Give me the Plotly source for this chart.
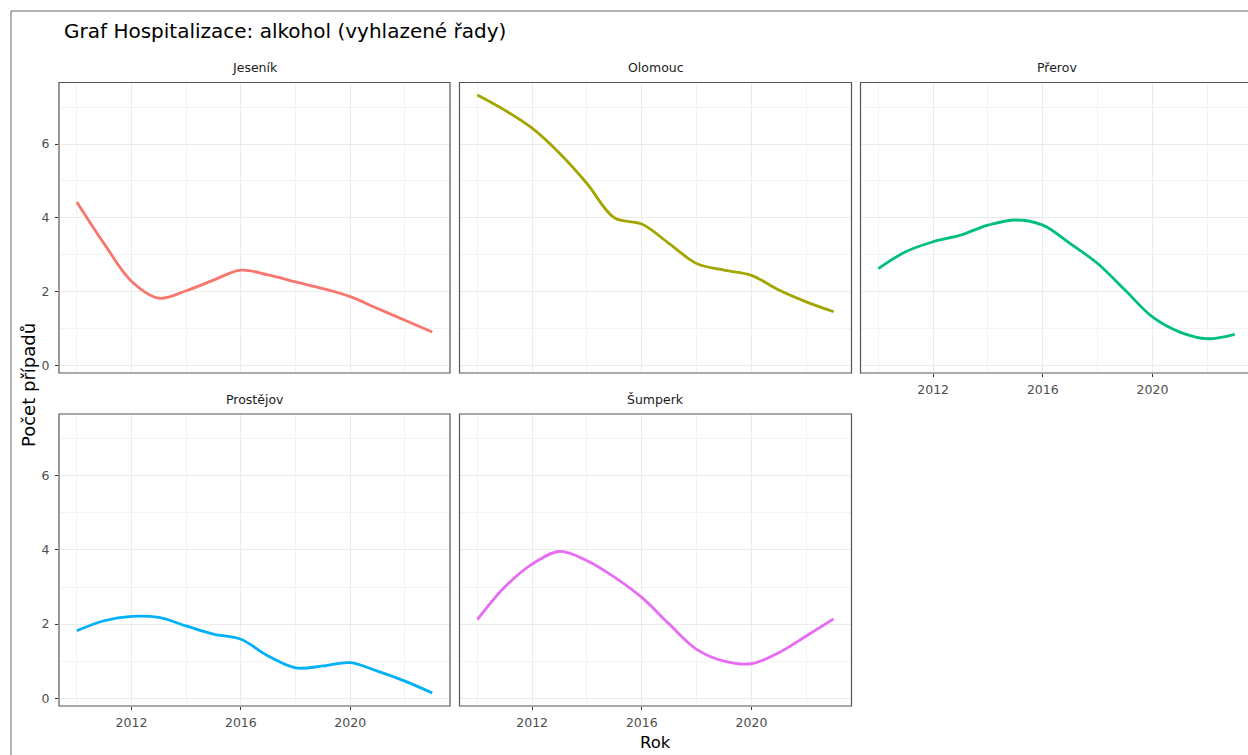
import plotly.graph_objects as go

# ---------------- data ----------------
years = list(range(2010, 2024))
okresy = ["Jeseník", "Olomouc", "Přerov", "Prostějov", "Šumperk"]
jesenik = [4.43, 3.30, 2.28, 1.82, 2.02, 2.31, 2.58, 2.45, 2.26, 2.08, 1.86, 1.54, 1.22, 0.90]
olomouc = [7.33, 6.92, 6.43, 5.75, 4.93, 4.00, 3.83, 3.30, 2.76, 2.58, 2.44, 2.04, 1.72, 1.45]
prerov = [2.62, 3.08, 3.35, 3.53, 3.80, 3.94, 3.80, 3.30, 2.76, 2.04, 1.31, 0.90, 0.72, 0.84]
prostejov = [1.82, 2.09, 2.21, 2.18, 1.95, 1.73, 1.59, 1.14, 0.82, 0.87, 0.96, 0.73, 0.46, 0.14]
sumperk = [2.12, 3.00, 3.62, 3.96, 3.71, 3.27, 2.72, 2.00, 1.32, 1.00, 0.93, 1.23, 1.68, 2.14]
series = [jesenik, olomouc, prerov, prostejov, sumperk]
colors = ["#F8766D", "#A3A500", "#00BF7D", "#00B0F6", "#E76BF3"]
x_ticks = [2012, 2016, 2020]
y_ticks = [0, 2, 4, 6]
title = "Graf Hospitalizace: alkohol (vyhlazené řady)"
x_title = "Rok"
y_title = "Počet případů"

# ---------------- layout geometry (pixels) ----------------
W, H = 1248, 755
FONT = "DejaVu Sans, Liberation Sans, Arial, sans-serif"
panels = [  # left, right, top, bottom
    (59, 450, 82.5, 373),
    (459.5, 851.5, 82.5, 373),
    (860.5, 1252.5, 82.5, 373),
    (59, 450, 414, 706),
    (459.5, 851.5, 414, 706),
]
XR = [2009.35, 2023.65]
YR = [-0.21, 7.67]


def px(x):
    return x / W


def py(y):
    return 1 - y / H


fig = go.Figure()
shapes = []
annotations = []

for i, (name, vals, col, (l, r, t, b)) in enumerate(zip(okresy, series, colors, panels)):
    n = "" if i == 0 else str(i + 1)
    xr = list(XR)
    rr = r
    if r > W:
        scale = (r - l) / (XR[1] - XR[0])
        xr = [XR[0], XR[0] + (W - l) / scale]
        rr = W
    fig.add_trace(go.Scatter(
        x=years, y=vals, mode="lines",
        line=dict(color=col, width=2.8, shape="spline", smoothing=1.0),
        xaxis="x" + n, yaxis="y" + n, showlegend=False, hoverinfo="x+y",
    ))
    show_x = i >= 2
    show_y = i in (0, 3)
    fig.layout["xaxis" + n] = dict(
        domain=[px(l), px(rr)], range=xr, anchor="y" + n,
        tickvals=x_ticks, showticklabels=show_x,
        ticks="outside" if show_x else "", ticklen=3, tickcolor="#333333", tickwidth=1,
        ticklabelstandoff=2,
        tickfont=dict(family=FONT, size=12.5, color="#4d4d4d"),
        showgrid=True, gridcolor="#ebebeb", gridwidth=1.1,
        minor=dict(tickvals=[2010, 2014, 2018, 2022], showgrid=True,
                   gridcolor="#f3f3f3", gridwidth=0.6),
        zeroline=False, showline=False, fixedrange=True,
    )
    fig.layout["yaxis" + n] = dict(
        domain=[py(b), py(t)], range=YR, anchor="x" + n,
        tickvals=y_ticks, showticklabels=show_y,
        ticks="outside" if show_y else "", ticklen=3, tickcolor="#333333", tickwidth=1,
        ticklabelstandoff=3,
        tickfont=dict(family=FONT, size=12.5, color="#4d4d4d"),
        showgrid=True, gridcolor="#ebebeb", gridwidth=1.1,
        minor=dict(tickvals=[1, 3, 5, 7], showgrid=True,
                   gridcolor="#f3f3f3", gridwidth=0.6),
        zeroline=False, showline=False, fixedrange=True,
    )
    shapes.append(dict(type="rect", xref="paper", yref="paper",
                       x0=px(l), x1=px(r), y0=py(b), y1=py(t),
                       line=dict(color="#555555", width=1.2), layer="above"))
    annotations.append(dict(text=name, xref="paper", yref="paper",
                            x=px((l + r) / 2), y=py(t - 15), xanchor="center", yanchor="middle",
                            showarrow=False, font=dict(family=FONT, size=12.5, color="#1a1a1a")))

# outer border
shapes.append(dict(type="rect", xref="paper", yref="paper",
                   x0=px(11), x1=px(1300), y0=py(800), y1=py(11),
                   line=dict(color="#666666", width=1)))

annotations.append(dict(text=title, xref="paper", yref="paper", x=px(62), y=py(31),
                        xanchor="left", yanchor="middle", showarrow=False,
                        font=dict(family=FONT, size=20, color="#000000")))
annotations.append(dict(text=x_title, xref="paper", yref="paper", x=px(655), y=py(742),
                        xanchor="center", yanchor="middle", showarrow=False,
                        font=dict(family=FONT, size=16.5, color="#000000")))
annotations.append(dict(text=y_title, xref="paper", yref="paper", x=px(28), y=py(385),
                        xanchor="center", yanchor="middle", showarrow=False, textangle=-90,
                        font=dict(family=FONT, size=18, color="#000000")))

fig.update_layout(
    width=W, height=H, autosize=False,
    margin=dict(l=0, r=0, t=0, b=0, pad=0),
    paper_bgcolor="white", plot_bgcolor="white",
    shapes=shapes, annotations=annotations, showlegend=False,
)

fig.write_html("out.html", config={"displayModeBar": False})
